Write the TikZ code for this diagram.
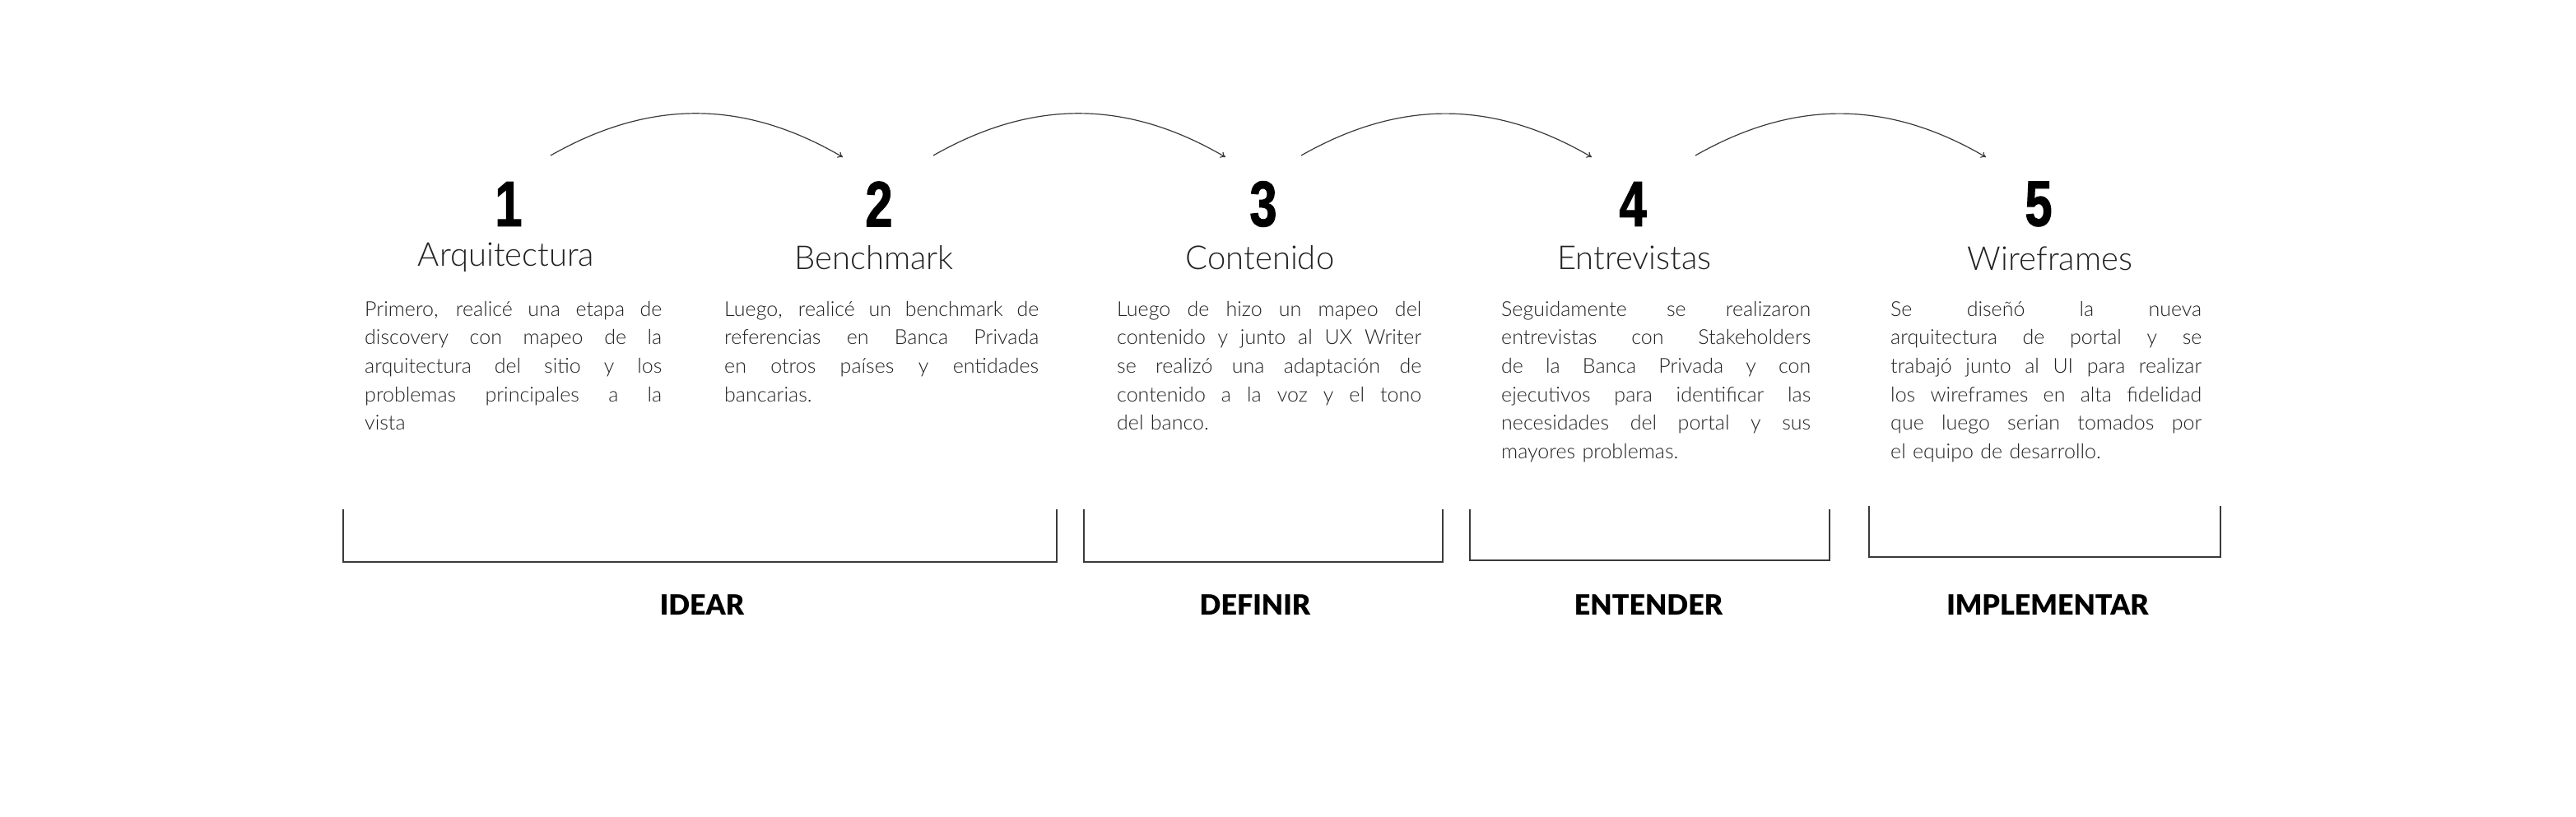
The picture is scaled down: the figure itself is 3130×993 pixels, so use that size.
\documentclass[tikz,border=0pt]{standalone}
\usepackage{fontspec}
\setmainfont{Lato}[UprightFont={* Light},BoldFont={* Black}]
\newfontfamily\numfont{Liberation Sans}[BoldFeatures={FakeStretch=0.76,FakeBold=1.5}]
\usetikzlibrary{arrows.meta}
\definecolor{txt}{HTML}{222222}
\definecolor{ln}{HTML}{3A3A3A}
\newcommand\jl[1]{\hbox to \hsize{\spaceskip=.26em plus 1fil minus .08em #1}}
\newcommand\lastline[1]{\hbox{#1}}
\tikzset{
  num/.style={font=\numfont\bfseries\fontsize{78}{78}\selectfont, text=black, inner sep=0pt},
  ttl/.style={font=\fontsize{40}{40}\selectfont, text=txt, inner sep=0pt},
  para/.style={font=\fontsize{25}{34.6}\selectfont, text=txt, inner sep=0pt, anchor=north west, align=left},
  lbl/.style={font=\bfseries\fontsize{34}{34}\selectfont, text=black, inner sep=0pt},
  arc/.style={draw=ln, line width=1.2pt, -{To[length=6pt,width=8pt]}},
  brk/.style={draw=ln, line width=1.5pt},
}
\begin{document}
\begin{tikzpicture}[x=1pt,y=-1pt]
\useasboundingbox (0,0) rectangle (3130,993);
% arcs
\coordinate (a1s) at (669,189); \coordinate (a1e) at (1024,191);
\coordinate (a2s) at (1134,189); \coordinate (a2e) at (1489,191);
\coordinate (a3s) at (1581,189); \coordinate (a3e) at (1934,191);
\coordinate (a4s) at (2060,189); \coordinate (a4e) at (2413,191);
\draw[arc] (a1s) to[bend left=30] (a1e);
\draw[arc] (a2s) to[bend left=30] (a2e);
\draw[arc] (a3s) to[bend left=30] (a3e);
\draw[arc] (a4s) to[bend left=30] (a4e);
% numbers
\node[num] (n1) at (618,248) {1};
\node[num] (n2) at (1068,248) {2};
\node[num] (n3) at (1535,248) {3};
\node[num] (n4) at (1984,248) {4};
\node[num] (n5) at (2477,248) {5};
% titles
\node[ttl] (t1) at (615,313) {Arquitectura};
\node[ttl] (t2) at (1062,313) {Benchmark};
\node[ttl] (t3) at (1531,313) {Contenido};
\node[ttl] (t4) at (1986,313) {Entrevistas};
\node[ttl] (t5) at (2491,314) {Wireframes};
% paragraphs
\node[para, text width=361pt] (p1) at (443,366) {%
\jl{Primero, realicé una etapa de}
\jl{discovery con mapeo de la}
\jl{arquitectura del sitio y los}
\jl{problemas principales a la}
\lastline{vista}};
\node[para, text width=382pt] (p2) at (880,366) {%
\jl{Luego, realicé un benchmark de}
\jl{referencias en Banca Privada}
\jl{en otros países y entidades}
\lastline{bancarias.}};
\node[para, text width=370pt] (p3) at (1357,366) {%
\jl{Luego de hizo un mapeo del}
\jl{contenido y junto al UX Writer}
\jl{se realizó una adaptación de}
\jl{contenido a la voz y el tono}
\lastline{del banco.}};
\node[para, text width=376pt] (p4) at (1824,366) {%
\jl{Seguidamente se realizaron}
\jl{entrevistas con Stakeholders}
\jl{de la Banca Privada y con}
\jl{ejecutivos para identificar las}
\jl{necesidades del portal y sus}
\lastline{mayores problemas.}};
\node[para, text width=378pt] (p5) at (2297,366) {%
\jl{Se diseñó la nueva}
\jl{arquitectura de portal y se}
\jl{trabajó junto al UI para realizar}
\jl{los wireframes en alta fidelidad}
\jl{que luego serian tomados por}
\lastline{el equipo de desarrollo.}};
% brackets
\coordinate (b1a) at (417,619); \coordinate (b1b) at (1284,683);
\coordinate (b2a) at (1317,619); \coordinate (b2b) at (1753,683);
\coordinate (b3a) at (1786,619); \coordinate (b3b) at (2223,681);
\coordinate (b4a) at (2271,615); \coordinate (b4b) at (2698,677);
\draw[brk] (b1a) |- (b1b) -- (b1b |- b1a);
\draw[brk] (b2a) |- (b2b) -- (b2b |- b2a);
\draw[brk] (b3a) |- (b3b) -- (b3b |- b3a);
\draw[brk] (b4a) |- (b4b) -- (b4b |- b4a);
% labels
\node[lbl] (l1) at (853,735) {IDEAR};
\node[lbl] (l2) at (1525,735) {DEFINIR};
\node[lbl] (l3) at (2003,735) {ENTENDER};
\node[lbl] (l4) at (2488,735) {IMPLEMENTAR};
\end{tikzpicture}
\end{document}
